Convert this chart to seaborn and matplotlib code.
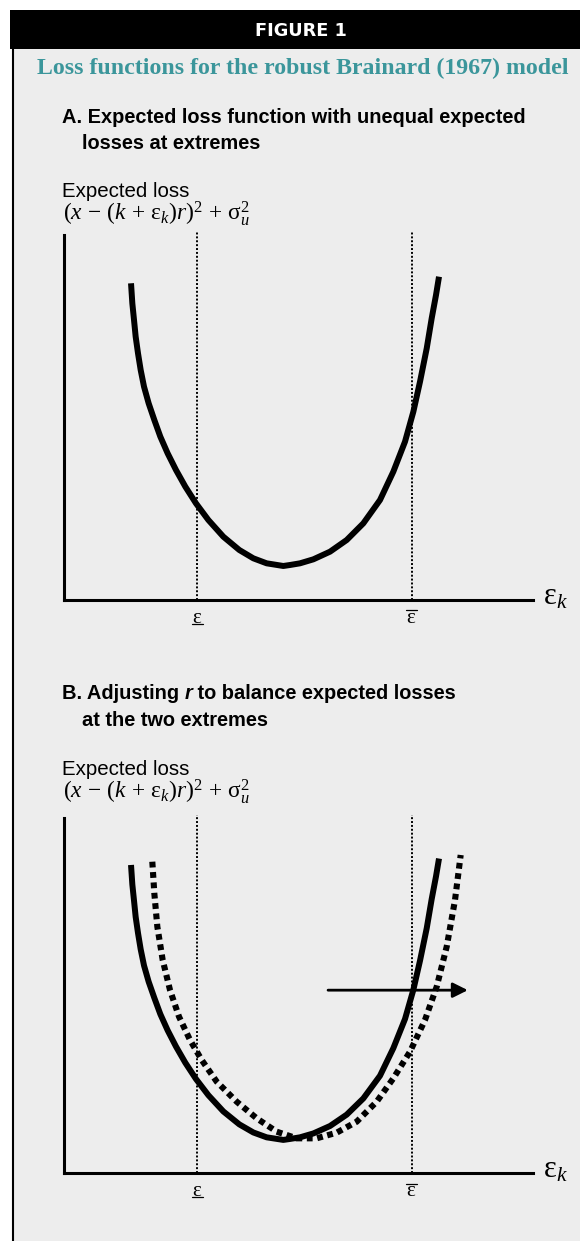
import matplotlib
matplotlib.use("Agg")
import matplotlib.pyplot as plt
import seaborn as sns
from matplotlib.patches import Rectangle
from matplotlib.transforms import ScaledTranslation

# ---- data (ε_k on a 0-100 axis scale, expected loss on a 0-100 axis scale) ----
# expected loss under the original policy response r
eps_base = [14.29, 14.57, 14.93, 15.28, 15.78, 16.35, 17.06, 18.05, 19.26, 20.54,
            22.10, 23.88, 25.87, 28.14, 30.78, 33.97, 37.38, 40.37, 43.21, 46.76,
            48.19, 50.32, 53.16, 56.72, 60.28, 63.82, 67.38, 70.22, 72.71, 74.49,
            75.91, 77.34, 78.40, 79.32, 79.96]
loss_base = [86.77, 81.28, 76.71, 72.14, 67.58, 63.01, 58.45, 53.88, 49.32, 44.75,
             40.18, 35.62, 31.05, 26.48, 21.92, 17.35, 13.70, 11.42, 10.05, 9.32,
             9.59, 10.05, 11.14, 13.24, 16.44, 21.00, 27.40, 35.16, 43.38, 51.60,
             59.82, 68.95, 77.18, 83.56, 88.58]

# expected loss after adjusting r
eps_adj = [18.83, 19.26, 19.90, 21.04, 22.60, 24.52, 26.87, 29.36, 32.56, 36.82,
           41.09, 45.35, 49.61, 53.88, 58.14, 62.41, 66.67, 70.22, 73.77, 76.97,
           79.47, 81.60, 83.37, 84.58]
loss_adj = [87.69, 78.78, 69.39, 60.00, 51.55, 44.04, 37.46, 31.83, 25.73, 20.09,
            15.40, 11.64, 9.77, 9.77, 11.36, 14.46, 20.09, 26.67, 34.17, 43.10,
            52.49, 63.76, 76.90, 89.58]

# lower and upper bounds of ε_k
eps_bounds = [28.4, 74.1]
bound_marks = ["under", "over"]

# shift of the curve
arrow_from, arrow_to, arrow_level = 56.3, 86.1, 51.5

title = "Loss functions for the robust Brainard (1967) model"
head_a = ["A. Expected loss function with unequal expected", "losses at extremes"]
head_b = ["B. Adjusting ", "r", " to balance expected losses", "at the two extremes"]
ylab = "Expected loss"
formula = (r"$(x\,-\,(k\,+\,\mathrm{\varepsilon}_{k})r)^{2}\,+\,"
           r"\mathrm{\sigma}_{u}^{2}$")
eps_sym = r"$\mathrm{\varepsilon}$"
axis_sym = r"$\mathrm{\varepsilon}_{k}$"

# ---- style ----
sns.set_theme(style="white")
plt.rcParams["font.family"] = ["Liberation Sans", "DejaVu Sans"]
plt.rcParams["mathtext.fontset"] = "custom"
plt.rcParams["mathtext.rm"] = "Liberation Serif"
plt.rcParams["mathtext.it"] = "Liberation Serif:italic"
plt.rcParams["mathtext.bf"] = "Liberation Serif:bold"
plt.rcParams["text.color"] = "black"

W, H = 580, 1241
BG = "#ededed"
TEAL = "#3b969b"

fig = plt.figure(figsize=(W / 100, H / 100), dpi=100)
fig.patch.set_facecolor("white")

# overlay in pixel units for the frame and headings
ov = fig.add_axes([0, 0, 1, 1])
ov.set_xlim(0, W)
ov.set_ylim(H, 0)
ov.axis("off")
ov.set_zorder(0)

ov.add_patch(Rectangle((12, 48), W, H, facecolor=BG, edgecolor="none"))
ov.add_patch(Rectangle((10, 10), W, 39, facecolor="black", edgecolor="none"))
ov.plot([12.7, 12.7], [10, H], color="black", lw=1.5, solid_capstyle="butt")

ov.text(301, 31, "FIGURE 1", color="white", fontsize=12.8, fontweight="bold",
        family="DejaVu Sans", ha="center", va="center")
ov.text(303, 68, title, color=TEAL, fontsize=17.2, fontweight="bold",
        family="Liberation Serif", ha="center", va="center")

hfs = 14.4
ov.text(62, 123, head_a[0], fontsize=hfs, fontweight="bold", va="baseline")
ov.text(82, 149, head_a[1], fontsize=hfs, fontweight="bold", va="baseline")

t1 = ov.text(62, 699, head_b[0], fontsize=hfs, fontweight="bold", va="baseline")
t2 = ov.annotate(head_b[1], xy=(1, 0), xycoords=t1, fontsize=hfs,
                 fontweight="bold", fontstyle="italic", va="bottom", ha="left")
ov.annotate(head_b[2], xy=(1, 0), xycoords=t2, fontsize=hfs,
            fontweight="bold", va="bottom", ha="left")
ov.text(82, 726, head_b[3], fontsize=hfs, fontweight="bold", va="baseline")

for y0 in (197, 775):
    ov.text(62, y0, ylab, fontsize=14.8, va="baseline")
    ov.text(63, y0 + 23, formula, fontsize=16.8, va="baseline")


def px_shift(dy_px):
    return ScaledTranslation(0, -dy_px / 100, fig.dpi_scale_trans)


def draw_panel(rect, curves, arrow=False):
    ax = fig.add_axes(rect)
    ax.set_zorder(1)
    ax.set_facecolor("none")
    for xs, ys, style in curves:
        if style == "solid":
            sns.lineplot(x=xs, y=ys, ax=ax, color="black", lw=4.3, sort=False,
                         solid_capstyle="butt", solid_joinstyle="round")
        else:
            sns.lineplot(x=xs, y=ys, ax=ax, color="black", lw=4.4, sort=False,
                         linestyle=(0, (0.95, 0.75)), dash_capstyle="butt",
                         dash_joinstyle="miter")
    ax.vlines(eps_bounds, 0, 100.8, colors="black", linestyles=(0, (1, 1)),
              lw=1.4, clip_on=False)
    ax.set_xlim(0, 100)
    ax.set_ylim(0, 100)
    sns.despine(ax=ax)
    for s in ("left", "bottom"):
        ax.spines[s].set_color("black")
        ax.spines[s].set_linewidth(2.2)
    ax.set_yticks([])
    ax.set_xticks([])
    tr = ax.get_xaxis_transform()
    for b, mark in zip(eps_bounds, bound_marks):
        ax.text(b, 0, eps_sym, transform=tr + px_shift(17.5), fontsize=15,
                ha="center", va="center")
        dy = 24 if mark == "under" else 10.5
        ax.plot([b - 1.2, b + 1.2], [0, 0], transform=tr + px_shift(dy),
                color="black", lw=0.9, clip_on=False)
    ax.text(1.022, 0, axis_sym, transform=ax.transAxes + px_shift(5),
            fontsize=22, ha="left", va="baseline")
    if arrow:
        ax.annotate("", xy=(arrow_to, arrow_level), xytext=(arrow_from, arrow_level),
                    arrowprops=dict(arrowstyle="-|>,head_length=0.5,head_width=0.25",
                                    color="black", lw=2, mutation_scale=18,
                                    shrinkA=0, shrinkB=0))
    return ax


def frac(left_px, top_px, right_px, bottom_px):
    return [left_px / W, 1 - bottom_px / H, (right_px - left_px) / W,
            (bottom_px - top_px) / H]


draw_panel(frac(64, 235, 533, 600), [(eps_base, loss_base, "solid")])
draw_panel(frac(64, 818, 533, 1173),
           [(eps_base, loss_base, "solid"), (eps_adj, loss_adj, "dashed")],
           arrow=True)

fig.savefig("out.png", dpi=100, facecolor=fig.get_facecolor())
